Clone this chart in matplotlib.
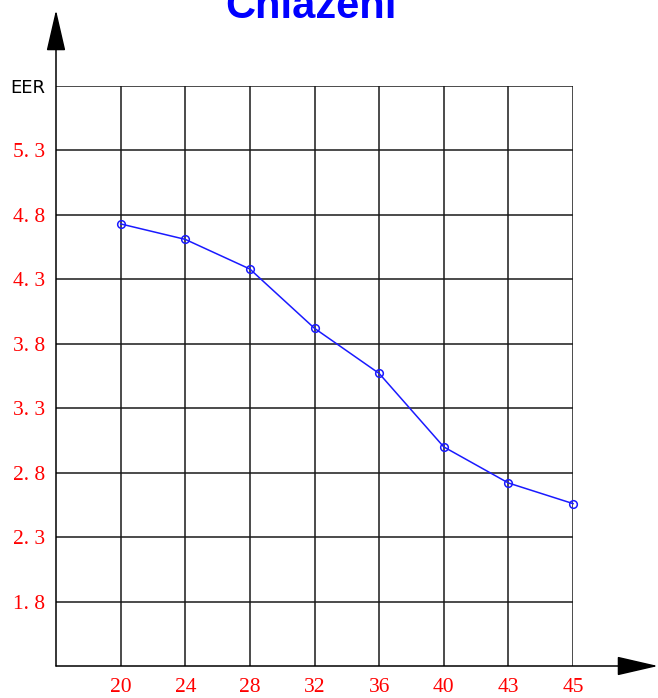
import matplotlib
matplotlib.use("Agg")
import matplotlib.pyplot as plt

temps = ["20", "24", "28", "32", "36", "40", "43", "45"]
eer = [4.73, 4.61, 4.38, 3.92, 3.57, 3.00, 2.72, 2.56]
ytick_vals = [1.8, 2.3, 2.8, 3.3, 3.8, 4.3, 4.8, 5.3, 5.8]
ytick_text = ["1. 8", "2. 3", "2. 8", "3. 3", "3. 8", "4. 3", "4. 8", "5. 3", "EER"]

W, H = 658, 698
fig = plt.figure(figsize=(W / 100, H / 100), dpi=100)

# axes box in pixels: left 56, right 573, top 86, bottom 666
ax = fig.add_axes([56 / W, (H - 666) / H, (573 - 56) / W, (666 - 86) / H])
ax.set_xlim(0, 8)
ax.set_ylim(1.3, 5.8)

xpos = list(range(1, len(temps) + 1))
ax.plot(xpos, eer, color="#1a1aff", lw=1.1, marker="o", ms=5.5,
        mfc="none", mec="#1a1aff", mew=1.1, zorder=3, clip_on=False)

ax.set_xticks(xpos)
ax.set_xticklabels(temps, fontfamily="Liberation Serif", fontsize=15.5, color="red")
ax.set_yticks(ytick_vals)
ax.set_yticklabels(ytick_text, fontfamily="Liberation Serif", fontsize=15.5, color="red")
eer_lab = ax.get_yticklabels()[-1]
eer_lab.set_color("black")
eer_lab.set_fontfamily("DejaVu Sans")
eer_lab.set_fontsize(13)
ax.tick_params(axis="both", length=0)
ax.tick_params(axis="x", pad=9)
ax.tick_params(axis="y", pad=8)
ax.grid(True, color="#1a1a1a", lw=1.1)
ax.set_axisbelow(True)
for s in ax.spines.values():
    s.set_visible(False)

# axis arrows, in figure pixels
arrow = dict(arrowstyle="-|>,head_length=1.3,head_width=0.3", color="black",
             lw=1.1, shrinkA=0, shrinkB=0, mutation_scale=20)
ax.annotate("", xy=(56, H - 10), xytext=(56, H - 666),
            xycoords="figure pixels", textcoords="figure pixels", arrowprops=arrow)
ax.annotate("", xy=(658, H - 666), xytext=(56, H - 666),
            xycoords="figure pixels", textcoords="figure pixels", arrowprops=arrow)

fig.text(311 / W, 1 - 18 / H, "Chlazení", ha="center", va="baseline",
         fontsize=30, fontweight="bold", color="#0000ff", fontfamily="Liberation Sans")

fig.savefig("out.png", dpi=100)
